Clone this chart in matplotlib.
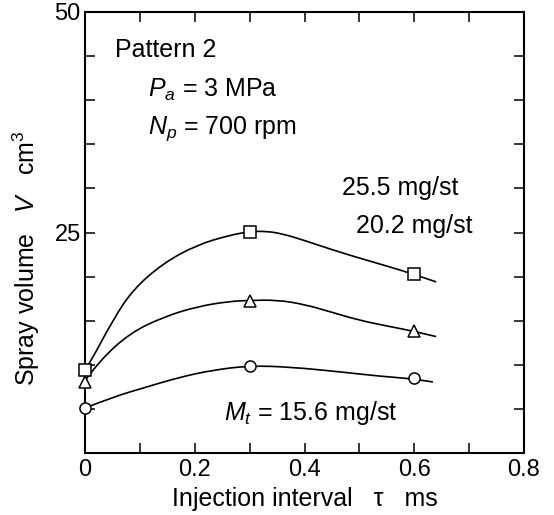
import numpy as np
import matplotlib
matplotlib.use("Agg")
import matplotlib.pyplot as plt
from matplotlib.path import Path
from matplotlib.patches import PathPatch
from matplotlib.ticker import MultipleLocator, FixedLocator

plt.rcParams['font.family'] = ['Liberation Sans', 'DejaVu Sans']
plt.rcParams['mathtext.fontset'] = 'custom'
plt.rcParams['mathtext.rm'] = 'Liberation Sans'
plt.rcParams['mathtext.it'] = 'Liberation Sans:italic'

# measured points (injection interval, spray volume)
tau_pts = [0.0, 0.3, 0.6]
v_255 = [9.4, 25.05, 20.3]
v_202 = [8.05, 17.2, 13.8]
v_156 = [5.1, 9.9, 8.5]

# hand drawn trend curves
curve_255_x = [0.0, 0.009, 0.051, 0.087, 0.142, 0.204, 0.264, 0.30, 0.33, 0.36, 0.40, 0.45, 0.50, 0.55, 0.60, 0.64]
curve_255_y = [9.4, 10.2, 15.1, 18.5, 21.5, 23.6, 24.7, 25.1, 25.15, 24.85, 24.1, 23.05, 22.1, 21.2, 20.25, 19.4]
curve_202_x = [0.0, 0.027, 0.082, 0.142, 0.204, 0.264, 0.30, 0.35, 0.40, 0.45, 0.50, 0.55, 0.60, 0.64]
curve_202_y = [8.2, 10.5, 13.6, 15.4, 16.6, 17.2, 17.3, 17.35, 16.85, 15.95, 15.05, 14.4, 13.8, 13.2]
curve_156_x = [0.0, 0.051, 0.113, 0.173, 0.233, 0.30, 0.374, 0.465, 0.538, 0.60, 0.634]
curve_156_y = [5.1, 6.35, 7.5, 8.6, 9.4, 9.9, 9.75, 9.2, 8.7, 8.4, 8.05]


def smooth_path(xs, ys):
    # quadratic bezier through the midpoints, read points used as controls
    pts = list(zip(xs, ys))
    verts = [pts[0]]
    codes = [Path.MOVETO]
    for i in range(1, len(pts) - 1):
        if i == len(pts) - 2:
            end = pts[-1]
        else:
            end = ((pts[i][0] + pts[i + 1][0]) / 2, (pts[i][1] + pts[i + 1][1]) / 2)
        verts += [pts[i], end]
        codes += [Path.CURVE3, Path.CURVE3]
    return Path(verts, codes)


fig = plt.figure(figsize=(5.54, 5.15), dpi=100)
ax = fig.add_axes([85/554, 1 - 453/515, 439/554, 441/515])

for cx, cy in [(curve_255_x, curve_255_y), (curve_202_x, curve_202_y), (curve_156_x, curve_156_y)]:
    ax.add_patch(PathPatch(smooth_path(cx, cy), fc='none', ec='black', lw=1.2, clip_on=False))

for v, m in [(v_255, 's'), (v_202, '^'), (v_156, 'o')]:
    ax.plot(tau_pts, v, ls='none', marker=m, ms=8, mfc='white', mec='black',
            mew=1.1, clip_on=False, zorder=5)

ax.set_xlim(0, 0.8)
ax.set_ylim(0, 50)
ax.xaxis.set_major_locator(FixedLocator([0, 0.2, 0.4, 0.6, 0.8]))
ax.xaxis.set_minor_locator(MultipleLocator(0.1))
ax.set_xticklabels(['0', '0.2', '0.4', '0.6', '0.8'])
ax.yaxis.set_major_locator(FixedLocator([25, 50]))
ax.yaxis.set_minor_locator(MultipleLocator(5))
ax.tick_params(which='both', direction='in', top=True, right=True,
               length=7, width=1.1, labelsize=17, pad=3)
ax.tick_params(axis='x', pad=4)
for s in ax.spines.values():
    s.set_linewidth(1.5)

fs = 18
ax.text(0.068, 0.898, 'Pattern 2', transform=ax.transAxes, fontsize=fs, va='baseline')
ax.text(0.1435, 0.807, '$P_a$ = 3 MPa', transform=ax.transAxes, fontsize=fs, va='baseline')
ax.text(0.1435, 0.723, '$N_p$ = 700 rpm', transform=ax.transAxes, fontsize=fs, va='baseline')
ax.text(0.585, 0.585, '25.5 mg/st', transform=ax.transAxes, fontsize=fs, va='baseline')
ax.text(0.617, 0.499, '20.2 mg/st', transform=ax.transAxes, fontsize=fs, va='baseline')
ax.text(0.317, 0.075, '$M_t$ = 15.6 mg/st', transform=ax.transAxes, fontsize=fs, va='baseline')

fig.text(26/554, 1 - 258/515, 'Spray volume   $V$   cm$^3$', rotation=90,
         fontsize=fs, ha='center', va='center')
fig.text(305/554, 1 - 499/515, 'Injection interval   τ   ms',
         fontsize=fs, ha='center', va='center')

fig.savefig('out.png', dpi=100)
